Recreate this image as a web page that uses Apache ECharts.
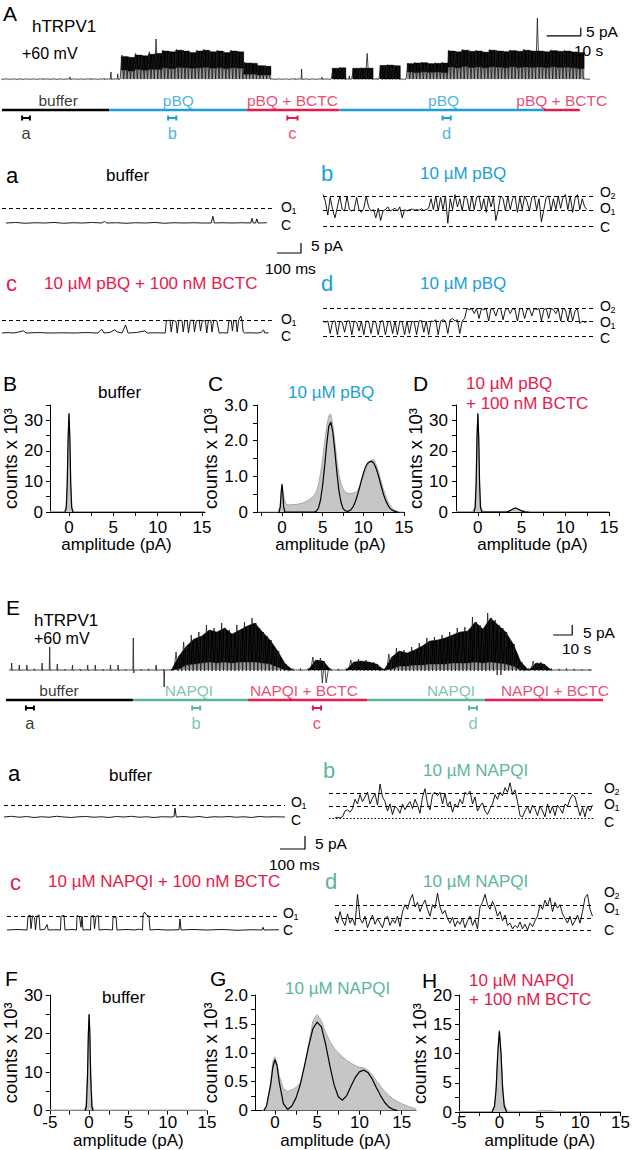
<!DOCTYPE html>
<html><head><meta charset="utf-8">
<script src="https://cdn.jsdelivr.net/npm/echarts@6/dist/echarts.min.js"></script>
<style>html,body{margin:0;padding:0;background:#fff}#c{width:633px;height:1150px}</style>
</head><body><div id="c"></div>
<script>
// ======================= DATA =======================
// ---- Panel A: long recording, pBQ (2 s bins, pA) ----
const traceA_t0 = 0, traceA_dt = 2;
const traceA_hi = [0.3,0.25,0.35,0.3,0.25,0.3,0.4,0.3,0.35,0.3,1.3,0.35,0.3,0.4,0.3,0.45,
 4.4,3.2, 15,14,16,15,17,25,
 18,17.5,18.5,18,17,18,18.5,17.5,18,17,18,17.5,
 10.6,10.2,8.7,8.5,
 0.3,0.35,0.3,0.4,6.2,0.35,0.3,1.2,0.35,
 6.9,7.2,2.0,6.9,7.0,16, 0.4, 8.7,8.9,8.5, 0.35,
 10,10.4,10.6,10,10.2,10.5,
 18,17.5,18.5,17.8,18,17.2,18.4,18,17.6,18.2,17.8,18.5,18,38,17.5,18.2,17.8,18,17.4,17,
 0.3];
const traceA_mn = [-0.3,-0.3,-0.3,-0.3,-0.3,-0.3,-0.3,-0.3,-0.3,-0.3,-0.3,-0.3,-0.3,-0.3,-0.3,-0.3,
 -0.3,-0.3, 0,0,0,0,0,0,
 0,0,0,0,0,0,0,0,0,0,0,0,
 0,0,0,0,
 -0.3,-0.3,-0.3,-0.3,-0.3,-0.3,-0.3,-0.3,-0.3,
 -0.2,-0.2,-0.2,-0.2,-0.2,-0.2, -0.3, -0.2,-0.2,-0.2, -0.3,
 0,0,0,0,0,0,
 0,0,0,0,0,0,0,0,0,0,0,0,0,0,0,0,0,0,0,0,
 -0.3];
const traceA_bandTop = [0,0,0,0,0,0,0,0,0,0,0,0,0,0,0,0,
 0,0, 14,13.5,15,14.5,15.5,16,
 17.5,17,18,17.5,16.5,17.5,18,17,17.5,16.5,17.5,17,
 10,9.8,8.3,8,
 0,0,0,0,0,0,0,0,0,
 6.7,7,0,6.7,6.8,6.8, 0, 8.5,8.7,8.3, 0,
 9.6,10,10.2,9.6,9.8,10,
 17.5,17,18,17.3,17.5,16.8,18,17.5,17.1,17.7,17.3,18,17.5,17.5,17,17.7,17.3,17.5,16.9,16.5,
 0];
const traceA_bandBot = [0,0,0,0,0,0,0,0,0,0,0,0,0,0,0,0,
 0,0, 5.6,5,6,5.5,6,6,
 7,6.5,7.2,7,6.8,7,7.3,6.8,7,6.5,7,6.8,
 3,3,2.5,2.5,
 0,0,0,0,0,0,0,0,0,
 0,0,0,0,0,0, 0, 0,0,0, 0,
 4.4,4,4.5,4.2,4.4,4,
 7.5,7,7.8,7.2,7.5,7,7.6,7.4,7,7.6,7.2,7.5,7.3,7.5,7.1,7.6,7.2,7.4,7,6.5,
 0];
const scaleBarA = [[160,27],[170,27],[170,32]];           // 10 s, 5 pA
const condNamesA = ['buffer','pBQ','pBQ + BCTC','pBQ','pBQ + BCTC'];
const condStartA = [0, 31.5, 71.8, 99.1, 159.1];
const condEndA   = [31.5, 71.8, 99.1, 159.1, 169.7];
const condLabelTA = [16.5, 51.8, 85.3, 129.7, 164.4];
const segNamesA = ['a','b','c','d'];
const segCondA  = ['buffer','pBQ','pBQ + BCTC','pBQ'];
const segStartA = [5.9, 48.8, 83.8, 129.4];
const segEndA   = [8.2, 51.2, 86.8, 131.8];

// ---- Panel E: long recording, NAPQI (4 s bins, pA) ----
const traceE_t0 = 3, traceE_dt = 4;
const traceE_hi = [3.5,2.5,2.5,0.6,3.5,11.5,3,0.5,2.5,0.5,2.5,2.5,0.5,2.5,2.5,0.5,16,0.5,0.6,2.5,0.5,0.5,
 9,14,17.5,19,22.5,21,23.5,20,22.5,24,26,21,17,11,5,
 0.8,0.8,0.8,6.5,6,0.8,0.6,0.8,5,5.5,5,4,0.8,
 8,11,10,11.5,13.5,16,16.5,17.5,19,21,21.5,26.5,22.5,28.5,25,21,15,6,
 0.8,4.5,4,0.8,0.6,0.8,0.6,0.5,0.5];
const traceE_mn = [-0.4,-0.4,-0.4,-0.4,-0.4,-0.4,-0.4,-0.4,-0.4,-0.4,-0.4,-0.4,-0.4,-0.4,-0.4,-0.4,-1.5,-0.4,-0.4,-0.4,-8.5,-0.4,
 -0.5,-0.5,-0.5,-0.5,-0.5,-0.5,-0.5,-0.5,-0.5,-0.5,-0.5,-0.5,-0.5,-0.5,-0.5,
 -0.4,-0.4,-0.4,-0.4,-6.5,-0.4,-0.4,-0.4,-0.4,-0.4,-0.4,-0.4,-0.4,
 -0.5,-0.5,-0.5,-0.5,-0.5,-0.5,-0.5,-0.5,-0.5,-0.5,-0.5,-0.5,-0.5,-0.5,-2.5,-0.5,-0.5,-0.5,
 -0.4,-0.4,-0.4,-0.4,-0.4,-0.4,-0.4,-0.4,-0.4];
const traceE_bandTop = [0,0,0,0,0,0,0,0,0,0,0,0,0,0,0,0,0,0,0,0,0,0,
 7,12,15.5,17,20,19,21,18,20,22,23.5,19,15,9.5,3,
 0,0,0,5,4.5,0,0,0,4,4.5,4,3,0,
 6.5,9.5,8.5,10,12,14.5,15,16,17.5,19,19.5,24,20.5,26,22.5,19,13,4,
 0,3.5,3,0,0,0,0,0,0];
const traceE_bandBot = [0,0,0,0,0,0,0,0,0,0,0,0,0,0,0,0,0,0,0,0,0,0,
 0.5,2.5,3,3.5,4,3.5,4,3.5,4,4,4,3.5,3,1.5,0,
 0,0,0,0,0,0,0,0,0,0,0,0,0,
 0.5,2,2,2.5,2.5,3,3,3,3.5,3.5,3.5,4,3.5,4,3.5,3,2,0,
 0,0,0,0,0,0,0,0,0];
const scaleBarE = [[288,17.5],[298,17.5],[298,22.5]];     // 10 s, 5 pA
const condNamesE = ['buffer','NAPQI','NAPQI + BCTC','NAPQI','NAPQI + BCTC'];
const condStartE = [0, 66.8, 127.4, 190, 252];
const condEndE   = [66.8, 127.4, 190, 252, 314.2];
const condLabelTE = [27.9, 96.3, 156.8, 234.2, 288.9];
const segNamesE = ['a','b','c','d'];
const segCondE  = ['buffer','NAPQI','NAPQI + BCTC','NAPQI'];
const segStartE = [10.5, 98, 161.5, 243.7];
const segEndE   = [14.7, 102.2, 165.8, 247.9];

// ---- state levels (pA) ----
const levelsPBQ = [0, 5.8, 11];
const levelsNAPQI = [0, 5.1, 10.7];

// ---- short segments, pBQ (ms, pA) ----
const segPBQ_a = [[0,0],[40,0.2],[80,-0.1],[120,0.1],[160,0],[200,0.2],[240,-0.1],[280,0.1],[320,0],[360,0.2],[400,0],[410,0.6],[420,0],[460,0.1],[500,-0.1],[540,0.1],[580,0],[620,0.2],[660,-0.1],[700,0.1],[740,0],[780,0.1],[820,0],[855,0],[862,2.6],[868,0],[900,0.1],[940,0],[980,0.1],[1020,0],[1025,1.8],[1030,0],[1040,0],[1045,1.6],[1050,0],[1087,0.1]];
const segPBQ_b_dt = 10;
const segPBQ_b = [11.5,9,4,10.5,6,3,7,11,6,5.5,
 11,6,5.5,6,10.5,6,5,6.5,11,7,
 5.5,6,3,6.5,2,5.5,6,7,5.5,6,
 6.5,5.5,7,3,6,5.5,6,6.2,5.8,6,
 5.8,6.3,5.7,6,6.5,10,6,11,5.5,10.5,
 6,11,1,10,6,11.5,7,10,5.5,11,
 10,5.5,11,6,10.5,11,6,10,5,11,
 7,10.5,2,6,11,10,5.5,11,6,10,
 11,5,10.5,6,11,9,5.5,10.5,11,6,
 10,1.5,6,10.5,11,5.5,10,6,11,6.5,
 10.5,11.5,6,11,5,10,11.5,6,10,7,6];
const segPBQ_c = [[0,0],[25,0.2],[50,0],[90,1],[100,0],[150,0.2],[200,0],[250,0.1],[300,0],[350,0.2],[400,0],[415,1.8],[425,0],[450,0.3],[470,1.5],[480,0.5],[500,0],[515,3.8],[525,0],[560,0.2],[595,1],[605,0],[640,0.1],[680,0],
 [685,5.8],[700,6],[705,0.5],[712,6],[725,5.5],[730,0],[737,6],[750,5.8],[755,0.5],[762,6],[772,5.5],[777,0],[785,6],[797,6],[802,0.5],[810,5.8],[822,6],[827,1],[835,6],[848,5.5],[853,0],[860,5.8],[870,6],[875,0.5],[882,6],[895,5.8],[905,0],
 [920,0.1],[940,0],[945,5.5],[955,6],[960,1],[966,6],[975,5.5],[980,0.5],[986,6],[995,8],[1000,6],[1005,0.5],[1010,0],
 [1030,0.1],[1060,0],[1080,0.2],[1090,1.5],[1095,0],[1111,0.1]];
const segPBQ_d_dt = 10;
const segPBQ_d = [6,5.5,6,1,5.8,6,0.5,6,5.5,1.5,
 6,6,0.5,6,5.5,2,6,0.5,6,5.8,
 1,6,5.5,0.5,6,6,0.5,5.5,6,1,
 6,0.5,6,5.5,0.5,6,1,6,5.5,0.5,
 6,6.2,1.5,6,0.5,6,5.8,6.5,0.5,6,
 6.5,6,1,6.5,7,6,6.5,1,6,7,
 11,10.5,11,9,11,7,11,10.5,11,6,
 11,10.5,8,11,11,6.5,10.5,11,9,11,
 10.5,6,11,11,7,10.5,11,8,11,10.5,
 11,6,10.5,11,7,11,10.5,9,11,6,
 11,10.5,6,11,6,10,11,5,6,5.5,5.8];

// ---- short segments, NAPQI (ms, pA) ----
const segNAP_a = [[0,0],[30,0.3],[60,-0.1],[90,0.2],[120,-0.2],[150,0.1],[180,-0.1],[210,0.3],[240,0],[270,-0.2],[300,0.1],[330,0.2],[360,-0.1],[390,0.1],[420,-0.2],[450,0.2],[480,0],[510,0.3],[540,-0.1],[570,0.1],[600,-0.2],[630,0.1],[670,0],[680,0.2],[684,3.8],[689,0],[720,0.2],[750,-0.1],[780,0.2],[810,-0.2],[840,0.1],[870,0],[900,0.2],[930,-0.1],[960,0.1],[990,-0.2],[1020,0.2],[1050,0],[1080,0.1],[1124,0]];
const segNAP_b_dt = 10;
const segNAP_b = [0,0.3,0,0.5,3,3.5,2.5,4,8,6,
 10,7,9,11,6,8.5,10.5,5.5,14.5,9,
 7,3,6,1.5,5,4,2,6,3.5,5.5,
 7,4,8,5.5,2,9,12.5,6,3.5,10,
 11,9.5,11,6,10.5,5,7,2.5,6,4.5,
 8,6,11,10,11.5,6,9,3,5,6.5,
 3,1.5,4,6,10,8,11,9.5,13,11,
 15,10,12,7,1,0.5,3,5,2,5.5,
 4,1,5,3,0.5,6,2,5,1,5.5,
 4,2,6,5,8,10,9,5,1,4.5,
 0.5,5,3,5.5];
const segNAP_c = [[0,0],[40,0.2],[80,0],[84,5],[92,5.5],[96,0.5],[102,5.2],[110,4.5],[114,0],[120,5],[128,5.5],[132,0],[150,0.2],[160,2],[165,0],[200,0.1],[214,0],[216,5],[228,5.3],[232,0],[260,0.2],[278,0],[280,5.2],[290,4.8],[296,1],[300,5],[304,0],[320,0.1],[334,0],[336,5],[346,5.3],[350,0.5],[356,5],[366,5.2],[368,0],[395,0.2],[422,0],[424,4.5],[436,4.8],[440,0],[480,0.2],[510,0],[530,0.3],[542,0],[544,5.5],[550,6.5],[560,5.3],[568,5],[572,0],[600,0.2],[640,0],[688,0.1],[692,4],[696,0],[740,0.2],[800,0],[860,0.2],[920,-0.1],[980,0.1],[1020,0],[1024,1],[1028,0],[1088,0.1]];
const segNAP_d_dt = 10;
const segNAP_d = [6,3,8,4,2,7,3,5,2,15.5,
 5,3,6,1,4,6.5,2.5,5,3,1,
 5,6,2,4.5,3,6,1.5,8,11,9,
 13,15.5,10,12,8,11,13,9,6,11,
 9.5,16,10,7,8.5,5,3,5.5,1.5,4,
 2.5,5,1,4,6,2,4.5,0.5,10,12,
 15.5,11,9,12.5,10,6,8,4,6.5,2,
 3,0.5,2,1,3.5,0.5,2.5,0,3,1.5,
 4,6,11,9,13,10.5,14,8,12,9.5,
 11,7,5,3,6,2,4,6.5,3,8,
 14,15.5,9,6];

// ---- amplitude histograms [amplitude pA, counts x10^3] ----
const histB_gray = [[-2.1,0.15],[-0.5,0.15],[-0.35,1],[-0.2,9],[-0.1,24],[0,32],[0.1,24],[0.2,9],[0.35,1],[0.5,0.15],[15.3,0.15]];
const histB_fit  = [[-0.45,0],[-0.3,1.5],[-0.2,9],[-0.1,24],[0,32.3],[0.1,24],[0.2,9],[0.3,1.5],[0.45,0]];
const histC_gray = [[-3,0],[-0.5,0],[-0.25,0.15],[0,0.72],[0.25,0.4],[0.5,0.22],[0.75,0.2],[1,0.2],[1.5,0.21],[2,0.22],[2.5,0.25],[3,0.3],[3.5,0.37],[4,0.48],[4.25,0.58],[4.5,0.78],[4.75,1.08],[5,1.5],[5.25,1.95],[5.5,2.4],[5.75,2.7],[6,2.75],[6.25,2.45],[6.5,1.95],[6.75,1.45],[7,1.05],[7.25,0.8],[7.5,0.65],[7.75,0.57],[8,0.53],[8.5,0.52],[9,0.55],[9.25,0.6],[9.5,0.7],[9.75,0.85],[10,1.0],[10.25,1.15],[10.5,1.3],[10.75,1.4],[11,1.46],[11.25,1.47],[11.5,1.38],[11.75,1.22],[12,1.02],[12.25,0.82],[12.5,0.62],[12.75,0.45],[13,0.3],[13.25,0.2],[13.5,0.12],[13.75,0.07],[14,0.03],[14.5,0],[15,0]];
const histC_fit  = [[-0.35,0],[-0.2,0.15],[-0.1,0.55],[0,0.78],[0.1,0.55],[0.2,0.15],[0.35,0],[4,0],[4.25,0.03],[4.5,0.12],[4.75,0.35],[5,0.75],[5.25,1.3],[5.5,1.9],[5.75,2.4],[6,2.52],[6.25,2.25],[6.5,1.7],[6.75,1.1],[7,0.6],[7.25,0.28],[7.5,0.1],[7.75,0.04],[8,0.02],[8.25,0.03],[8.5,0.07],[8.75,0.15],[9,0.28],[9.25,0.45],[9.5,0.65],[9.75,0.88],[10,1.08],[10.25,1.25],[10.5,1.36],[10.75,1.41],[11,1.42],[11.25,1.38],[11.5,1.27],[11.75,1.1],[12,0.9],[12.25,0.68],[12.5,0.48],[12.75,0.32],[13,0.2],[13.25,0.11],[13.5,0.06],[13.75,0.03],[14,0.01],[14.25,0]];
const histD_gray = [[-2.5,0.15],[-0.6,0.15],[-0.35,1.5],[-0.2,10],[-0.1,25],[0,32],[0.1,25],[0.2,10],[0.35,1.5],[0.6,0.2],[3.3,0.2],[3.7,0.5],[4,1.0],[4.3,1.35],[4.6,1.0],[5,0.5],[5.5,0.2],[15,0.15]];
const histD_fit  = [[-0.45,0],[-0.3,1.5],[-0.2,9],[-0.1,24],[0,32.3],[0.1,24],[0.2,9],[0.3,1.5],[0.45,0],[3.3,0],[3.6,0.3],[4,1.0],[4.3,1.3],[4.6,1.0],[5,0.35],[5.4,0.05],[5.8,0]];
const histF_gray = [[-5,0.15],[-0.6,0.15],[-0.4,1.5],[-0.2,10],[-0.1,20],[0,25],[0.1,20],[0.2,10],[0.4,1.5],[0.6,0.15],[15,0.15]];
const histF_fit  = [[-0.5,0],[-0.35,1],[-0.2,9],[-0.1,19.5],[0,25],[0.1,19.5],[0.2,9],[0.35,1],[0.5,0]];
const histG_gray = [[-1.5,0],[-1,0.05],[-0.5,0.5],[-0.25,0.85],[0,0.93],[0.25,0.82],[0.5,0.6],[1,0.38],[1.5,0.33],[2,0.36],[2.5,0.4],[3,0.48],[3.5,0.75],[4,1.15],[4.5,1.55],[5,1.66],[5.5,1.55],[6,1.35],[6.5,1.2],[7,1.08],[7.5,1.0],[8,0.93],[8.5,0.87],[9,0.82],[9.5,0.78],[10,0.75],[10.5,0.74],[11,0.7],[11.5,0.62],[12,0.52],[12.5,0.42],[13,0.33],[13.5,0.26],[14,0.2],[14.5,0.16],[15,0.12],[15.5,0.09],[16,0.06],[16.5,0.04],[16.7,0.03]];
const histG_fit  = [[-1.3,0],[-1,0.08],[-0.5,0.45],[-0.25,0.75],[0,0.88],[0.25,0.78],[0.5,0.5],[1,0.12],[1.5,0.02],[2,0.08],[2.5,0.22],[3,0.45],[3.5,0.78],[4,1.12],[4.5,1.42],[5,1.53],[5.5,1.45],[6,1.15],[6.5,0.78],[7,0.45],[7.5,0.24],[8,0.18],[8.5,0.26],[9,0.42],[9.5,0.57],[10,0.67],[10.5,0.7],[11,0.66],[11.5,0.55],[12,0.4],[12.5,0.26],[13,0.14],[13.5,0.06],[14,0.02],[14.5,0]];
const histH_gray = [[-5,0.1],[-0.9,0.1],[-0.6,1.2],[-0.4,4.5],[-0.2,10.5],[0,14],[0.2,10.5],[0.4,4.8],[0.6,1.5],[0.9,0.4],[1.2,0.15],[4.5,0.1],[5,0.25],[6.5,0.25],[7,0.1],[15,0.1]];
const histH_fit  = [[-0.9,0],[-0.6,1],[-0.4,4],[-0.2,10],[0,13.8],[0.2,10],[0.4,4],[0.6,1],[0.9,0]];

// ======================= STYLE / LAYOUT =======================
const BLUE = '#1A9FD9', RED = '#E8194B', TEAL = '#5DB59B', BLACK = '#000';
const FONT = "'Liberation Sans', Arial, Helvetica, sans-serif";
const NARROW = "'Liberation Sans Narrow', 'Arial Narrow', 'Liberation Sans', sans-serif";
const condColor = {'buffer':BLACK,'pBQ':BLUE,'pBQ + BCTC':RED,'NAPQI':TEAL,'NAPQI + BCTC':RED};

const grids = [], xAxes = [], yAxes = [], series = [], gfx = [];
function addGrid(box, xr, yr, yInverse){
  const i = grids.length;
  grids.push({left:box[0], top:box[1], width:box[2], height:box[3]});
  xAxes.push({gridIndex:i, type:'value', show:false, min:xr[0], max:xr[1]});
  yAxes.push({gridIndex:i, type:'value', show:false, min:yr[0], max:yr[1], inverse:!!yInverse});
  return i;
}

// ---- long traces: grey flicker zone + dense black band + spike envelope ----
function longTrace(box, xr, yr, t0, dt, hi, mn, top, bot, bar, step){
  const g = addGrid(box, xr, yr);
  const ts = hi.map((_, i) => t0 + i*dt);
  function bandSeries(loArr, hiArr, color){
    const data = step
      ? ts.map((t,i)=>[t - dt/2, hiArr[i], loArr[i], t + dt/2, hiArr[i], loArr[i]])
      : ts.slice(0, -1).map((t,i)=>[t, hiArr[i], loArr[i], ts[i+1], hiArr[i+1], loArr[i+1]]);
    series.push({type:'custom', xAxisIndex:g, yAxisIndex:g, silent:true, clip:false,
      data: data, encode:{x:[0,3], y:[1,2,4,5]},
      renderItem:(p, api)=>{
        if (api.value(1) === api.value(2) && api.value(4) === api.value(5)) return null;
        const a = api.coord([api.value(0), api.value(1)]), b = api.coord([api.value(3), api.value(4)]);
        const c = api.coord([api.value(3), api.value(5)]), d = api.coord([api.value(0), api.value(2)]);
        return {type:'polygon', shape:{points:[a,b,c,d]}, style:{fill:color, stroke:color, lineWidth:0.4}};
      }});
  }
  const zero = top.map(v => 0);
  const greyTop = top.map((v,i) => v > 0 ? bot[i] : 0);
  bandSeries(zero, greyTop, '#9a9a9a');
  bandSeries(bot, top, '#000');
  const zz = [];
  ts.forEach((t,i)=>{
    if (top[i] > 0) {
      zz.push([t-0.375*dt, hi[i]],[t-0.125*dt, mn[i]],[t+0.125*dt, top[i]],[t+0.375*dt, mn[i]]);
    } else {
      zz.push([t-0.35*dt, 0],[t-0.06*dt, 0],[t, hi[i]],[t+0.06*dt, mn[i]],[t+0.12*dt, 0],[t+0.35*dt, 0]);
    }
  });
  series.push({type:'line', xAxisIndex:g, yAxisIndex:g, symbol:'none', silent:true, clip:false,
    data: zz, lineStyle:{color:'#1a1a1a', width:0.8}});
  series.push({type:'line', xAxisIndex:g, yAxisIndex:g, symbol:'none', silent:true, clip:false,
    data: bar, lineStyle:{color:'#000', width:1.2}});
}
longTrace([2,15,589,70], [0,173], [-3.75,40], traceA_t0, traceA_dt, traceA_hi, traceA_mn, traceA_bandTop, traceA_bandBot, scaleBarA, true);
longTrace([6,600,597,90], [0,314.2], [-10,35], traceE_t0, traceE_dt, traceE_hi, traceE_mn, traceE_bandTop, traceE_bandBot, scaleBarE, false);

// ---- condition bars / segment markers ----
function condRow(box, xr, names, starts, ends, labelT, segN, segC, segS, segE){
  const g = addGrid(box, xr, [0, box[3]], true);
  series.push({type:'custom', xAxisIndex:g, yAxisIndex:g, silent:true, clip:false,
    data: starts.map((s,i)=>[s, ends[i], i]),
    encode:{x:[0,1]},
    renderItem:(p, api)=>{
      const a = api.coord([api.value(0), 20]), b = api.coord([api.value(1), 20]);
      return {type:'line', shape:{x1:a[0],y1:a[1],x2:b[0],y2:b[1]},
        style:{stroke:condColor[names[api.value(2)]], lineWidth:2.5}};
    }});
  series.push({type:'custom', xAxisIndex:g, yAxisIndex:g, silent:true, clip:false,
    data: segS.map((s,i)=>[s, segE[i], i]),
    encode:{x:[0,1]},
    renderItem:(p, api)=>{
      const a = api.coord([api.value(0), 28]), b = api.coord([api.value(1), 28]);
      const st = {stroke:condColor[segC[api.value(2)]], lineWidth:2};
      return {type:'group', children:[
        {type:'line', shape:{x1:a[0],y1:a[1],x2:b[0],y2:b[1]}, style:st},
        {type:'line', shape:{x1:a[0],y1:a[1]-2.5,x2:a[0],y2:a[1]+2.5}, style:st},
        {type:'line', shape:{x1:b[0],y1:b[1]-2.5,x2:b[0],y2:b[1]+2.5}, style:st}]};
    }});
  series.push({type:'scatter', xAxisIndex:g, yAxisIndex:g, silent:true, symbolSize:0,
    data: labelT.map((t,i)=>({value:[t,10], name:names[i], label:{color:condColor[names[i]]}})),
    label:{show:true, position:'inside', formatter:'{b}', fontSize:15.5, fontFamily:FONT}});
  series.push({type:'scatter', xAxisIndex:g, yAxisIndex:g, silent:true, symbolSize:0,
    data: segS.map((s,i)=>({value:[(s+segE[i])/2, 43], name:segN[i], label:{color:condColor[segC[i]]}})),
    label:{show:true, position:'inside', formatter:'{b}', fontSize:16.5, fontFamily:FONT}});
}
condRow([2,90,589,50], [0,173], condNamesA, condStartA, condEndA, condLabelTA, segNamesA, segCondA, segStartA, segEndA);
condRow([6,680,597,60], [0,314.2], condNamesE, condStartE, condEndE, condLabelTE, segNamesE, segCondE, segStartE, segEndE);

// ---- short segment traces ----
function segTrace(left, width, xr, base, k, data, levels, dotted){
  const g = addGrid([left, base - 18*k, width, 26*k], xr, [-8, 18]);
  series.push({type:'line', xAxisIndex:g, yAxisIndex:g, symbol:'none', silent:true, clip:false,
    data: data, lineStyle:{color:'#000', width:0.9},
    markLine:{silent:true, symbol:'none', label:{show:false},
      lineStyle:{type:[4,3], color:'#000', width:1},
      data: levels.map(v=>({yAxis:v, lineStyle: (dotted && v===0) ? {type:[1.5,2]} : {}}))}});
}
const idx = (arr, dt) => arr.map((v,i)=>[i*dt, v]);
segTrace(2,   273, [-16.7,1120.8], 223, 2.6,  segPBQ_a, [levelsPBQ[1]]);
segTrace(323, 271, [0,1129],       226, 2.73, idx(segPBQ_b, segPBQ_b_dt), levelsPBQ);
segTrace(2,   273, [0,1137.5],     333, 2.12, segPBQ_c, [levelsPBQ[1]]);
segTrace(323, 271, [0,1129],       336, 2.5,  idx(segPBQ_d, segPBQ_d_dt), levelsPBQ);
segTrace(4,   281, [0,1124],       817, 2.35, segNAP_a, [levelsNAPQI[1]]);
segTrace(329, 265, [-24,1036],     818, 2.34, idx(segNAP_b, segNAP_b_dt), levelsNAPQI, true);
segTrace(7,   272, [0,1088],       930, 2.75, segNAP_c, [levelsNAPQI[1]]);
segTrace(335, 259, [0,1036],       930, 2.3,  idx(segNAP_d, segNAP_d_dt), levelsNAPQI);

// ---- histograms ----
function range(a, b, s){ const r=[]; for(let v=a; v<=b+1e-9; v+=s) r.push(+v.toFixed(3)); return r; }
function histPanel(box, xr, ymax, o, gray, fit){
  const i = grids.length;
  grids.push({left:box[0], top:box[1], width:box[2], height:box[3]});
  xAxes.push({gridIndex:i, type:'value', min:xr[0], max:xr[1],
    axisLine:{show:true, onZero:false, lineStyle:{color:'#000', width:1}},
    axisTick:{show:true, length:4, lineStyle:{color:'#000', width:1}, customValues:o.xt},
    axisLabel:{show:true, customValues:o.xl, color:'#000', fontSize:17, fontFamily:NARROW, margin:o.xm},
    splitLine:{show:false},
    name:'amplitude (pA)', nameLocation:'middle', nameGap:o.xng,
    nameTextStyle:{color:'#000', fontSize:17, fontFamily:NARROW, padding:o.xpad || 0}});
  yAxes.push({gridIndex:i, type:'value', min:0, max:ymax,
    axisLine:{show:true, onZero:false, lineStyle:{color:'#000', width:1}},
    axisTick:{show:true, length:4, lineStyle:{color:'#000', width:1}, customValues:o.yt},
    axisLabel:{show:true, customValues:o.yl, color:'#000', fontSize:17, fontFamily:NARROW, margin:o.ym,
      formatter: v => (v === 0 ? '0' : (o.dec ? v.toFixed(1) : String(v)))},
    splitLine:{show:false},
    name:'counts x 10\u00B3', nameLocation:'middle', nameRotate:90, nameGap:o.yng,
    nameTextStyle:{color:'#000', fontSize:18.5, fontFamily:FONT}});
  series.push({type:'line', xAxisIndex:i, yAxisIndex:i, symbol:'none', silent:true, data:gray,
    lineStyle:{color:'#A8A8A8', width:1}, areaStyle:{color:'#C6C6C6', opacity:1}, z:3});
  series.push({type:'line', xAxisIndex:i, yAxisIndex:i, symbol:'none', silent:true, data:fit,
    lineStyle:{color:'#000', width:1.2}, z:4});
}
histPanel([50,405,155,107], [-2.14,15.33], 35,
  {xt:range(0,15,2.5), xl:[0,5,10,15], yt:range(0,35,5), yl:[0,10,20,30], xm:6.5, ym:7, xng:24, yng:29, xpad:[0,22,0,0]},
  histB_gray, histB_fit);
histPanel([257,405,147,107], [-3.07,15], 3,
  {xt:range(-2.5,15,2.5), xl:[0,5,10,15], yt:range(0,3,0.5), yl:[0,1,2,3], dec:true, xm:6.5, ym:9, xng:24, yng:22},
  histC_gray, histC_fit);
histPanel([456,405,153,107], [-2.5,15], 35,
  {xt:range(0,15,2.5), xl:[0,5,10,15], yt:range(0,35,5), yl:[0,10,20,30], xm:6.5, ym:8, xng:22, yng:20},
  histD_gray, histD_fit);
histPanel([47,995,160,118], [-5,15], 30,
  {xt:range(-5,15,2.5), xl:[-5,0,5,10,15], yt:range(0,30,5), yl:[0,10,20,30], xm:3.5, ym:7, xng:19.5, yng:20},
  histF_gray, histF_fit);
histPanel([255,995,161,118], [-2.36,16.7], 2,
  {xt:range(0,15,2.5), xl:[0,5,10,15], yt:range(0,2,0.25), yl:[0,0.5,1,1.5,2], dec:true, xm:3.5, ym:7, xng:20.5, yng:22},
  histG_gray, histG_fit);
histPanel([459,995,162,120], [-5,15], 20,
  {xt:range(-5,15,2.5), xl:[-5,0,5,10,15], yt:range(0,20,2.5), yl:[0,5,10,15,20], xm:2, ym:7, xng:16.5, yng:19},
  histH_gray, histH_fit);

// ---- text annotations ----
function T(text, x, y, size, color, font){
  gfx.push({type:'text', x:x, y:y, silent:true, z:100,
    style:{text:text, fill:color || BLACK, font: size + 'px ' + (font || FONT), textAlign:'left', textVerticalAlign:'middle'}});
}
function S(name, sub, x, y){ // state label with subscript
  T(name, x, y, 14);
  if (sub) T(sub, x + 10.5, y + 4, 9);
}
T('A', 3, 13, 21); T('hTRPV1', 32, 26, 17); T('+60 mV', 22, 53, 16);
T('5 pA', 586, 31, 15.5); T('10 s', 574, 50, 15.5);
T('a', 6, 175, 22); T('buffer', 106, 175, 17);
T('b', 321, 173, 22, BLUE); T('10 \u00B5M pBQ', 420, 173, 17, BLUE);
T('c', 6, 283, 22, RED); T('10 \u00B5M pBQ + 100 nM BCTC', 44, 283, 17, RED);
T('d', 321, 283, 22, BLUE); T('10 \u00B5M pBQ', 420, 283, 17, BLUE);
T('5 pA', 311, 245, 15.5); T('100 ms', 265, 268, 15.5);
S('O','1',281,207); S('C','',281,225);
S('O','2',600,192); S('O','1',600,208); S('C','',600,227);
S('O','1',281,319); S('C','',281,336);
S('O','2',600,306); S('O','1',600,322); S('C','',600,338);
T('B', 3, 383, 21); T('buffer', 98, 392, 17);
T('C', 208, 383, 21); T('10 \u00B5M pBQ', 288, 392, 17, BLUE);
T('D', 413, 383, 21); T('10 \u00B5M pBQ', 466, 383, 17, RED); T('+ 100 nM BCTC', 466, 403, 17, RED);
T('E', 6, 607, 21); T('hTRPV1', 34, 620, 17); T('+60 mV', 34, 638, 16);
T('5 pA', 583, 632, 15.5); T('10 s', 562, 648, 15.5);
T('a', 8, 773, 22); T('buffer', 109, 775, 17);
T('b', 323, 770, 22, TEAL); T('10 \u00B5M NAPQI', 423, 770, 17, TEAL);
T('c', 10, 882, 22, RED); T('10 \u00B5M NAPQI + 100 nM BCTC', 48, 881, 17, RED);
T('d', 325, 881, 22, TEAL); T('10 \u00B5M NAPQI', 423, 881, 17, TEAL);
T('5 pA', 315, 843, 15.5); T('100 ms', 269, 864, 15.5);
S('O','1',291,802); S('C','',291,820);
S('O','2',604,788); S('O','1',604,804); S('C','',604,822);
S('O','1',283,913); S('C','',283,930);
S('O','2',604,892); S('O','1',604,908); S('C','',604,930);
T('F', 5, 978, 21); T('buffer', 102, 997, 17);
T('G', 210, 978, 21); T('10 \u00B5M NAPQI', 285, 988, 17, TEAL);
T('H', 422, 980, 21); T('10 \u00B5M NAPQI', 469, 980, 17, RED); T('+ 100 nM BCTC', 469, 999, 17, RED);
// segment scale bars (5 pA / 100 ms)
gfx.push({type:'polyline', silent:true, shape:{points:[[277,253],[301,253],[301,243]]}, style:{stroke:'#000', lineWidth:1.2, fill:null}});
gfx.push({type:'polyline', silent:true, shape:{points:[[280,849],[305,849],[305,836]]}, style:{stroke:'#000', lineWidth:1.2, fill:null}});

const chart = echarts.init(document.getElementById('c'), null, {renderer:'svg', width:633, height:1150});
chart.setOption({
  animation:false, backgroundColor:'#fff',
  textStyle:{fontFamily:FONT},
  grid:grids, xAxis:xAxes, yAxis:yAxes, series:series,
  graphic:{elements:gfx}
});
</script></body></html>
